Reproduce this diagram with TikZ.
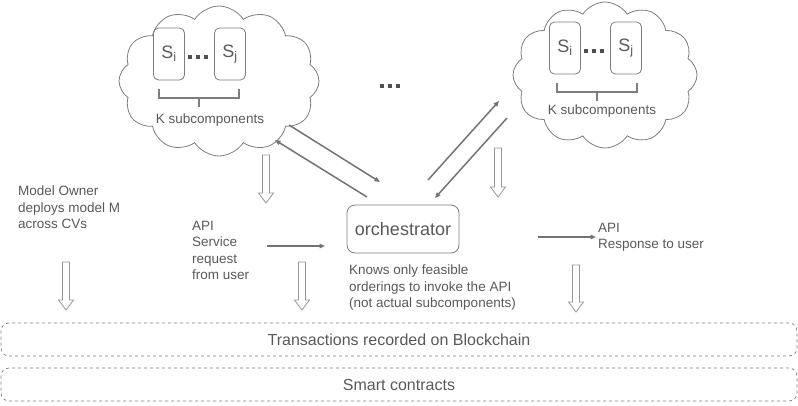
\documentclass[tikz,border=0pt]{standalone}
\usepackage{fontspec}
\setmainfont{Liberation Sans}
\usetikzlibrary{shapes.symbols,arrows.meta}
\definecolor{txt}{RGB}{89,89,89}
\definecolor{ln}{RGB}{125,125,125}
\definecolor{arr}{RGB}{115,115,115}
\definecolor{hol}{RGB}{150,150,150}
\definecolor{dotc}{RGB}{80,80,80}
\newcommand\hollowdown[3]{%
  \draw[hollow] (#1-3.5,#2) -- (#1+3.5,#2) -- (#1+3.5,#3-10) -- (#1+7.5,#3-10) -- (#1,#3) -- (#1-7.5,#3-10) -- (#1-3.5,#3-10) -- cycle;}
\newcommand\threedots[2]{%
  \fill[dotc] (#1,#2) rectangle ++(3.6,3.6);
  \fill[dotc] (#1+8,#2) rectangle ++(3.6,3.6);
  \fill[dotc] (#1+16,#2) rectangle ++(3.6,3.6);}
\begin{document}
\begin{tikzpicture}[x=1pt,y=-1pt,
  font=\fontsize{13.5}{16.5}\selectfont, text=txt,
  cloudbox/.style={cloud, cloud puffs=12, cloud puff arc=115, draw=ln, line width=0.8pt, inner sep=0pt},
  sbox/.style={draw=ln, line width=0.8pt, rounded corners=5pt, minimum width=31pt, minimum height=52pt, inner sep=0pt, font=\fontsize{18}{20}\selectfont},
  brace/.style={draw=ln, line width=1.6pt},
  orch/.style={draw=ln, line width=0.8pt, rounded corners=8pt, minimum width=112pt, minimum height=48pt, inner sep=0pt, font=\fontsize{18}{20}\selectfont},
  label/.style={align=left, anchor=north west, inner sep=0pt},
  conn/.style={draw=arr, line width=1.5pt, -{Triangle[length=5.5pt,width=4.5pt]}},
  hollow/.style={draw=hol, line width=0.8pt, fill=white},
  band/.style={draw=ln, dashed, line width=0.7pt, rounded corners=8pt, minimum width=796pt, minimum height=33pt, inner sep=0pt, font=\fontsize{16}{18}\selectfont}
]
\useasboundingbox (0,0) rectangle (798,405);

% clouds
\node[cloudbox, minimum width=200pt, minimum height=150pt] (cloudA) at (219,81) {};
\node[cloudbox, minimum width=184pt, minimum height=146pt] (cloudB) at (605,75) {};

% subcomponent boxes cloud A
\node[sbox] (siA) at (169,54) {S\textsubscript{i}};
\node[sbox] (sjA) at (230,54) {S\textsubscript{j}};
\threedots{188}{55}
\draw[brace] (159,89) -- (159,98) -- (239,98) -- (239,89);
\draw[brace] (199,98) -- (199,107);
\node (kA) at (210,120) {K subcomponents};

% subcomponent boxes cloud B
\node[sbox] (siB) at (565,48) {S\textsubscript{i}};
\node[sbox] (sjB) at (626,48) {S\textsubscript{j}};
\threedots{584}{49}
\draw[brace] (557,83) -- (557,92) -- (637,92) -- (637,83);
\draw[brace] (597,92) -- (597,101);
\node (kB) at (602,111) {K subcomponents};

% middle dots
\threedots{380}{84}

% orchestrator
\node[orch] (orc) at (403,229) {orchestrator};

% texts
\node[label] (owner) at (18,186) {Model Owner\\deploys model M\\across CVs};
\node[label] (req) at (192,221) {API\\Service\\request\\from user};
\node[label] (knows) at (349,265) {Knows only feasible\\orderings to invoke the API\\(not actual subcomponents)};
\node[label] (resp) at (598,223) {API\\Response to user};

% connectors
\coordinate (a1s) at (289,125); \coordinate (a1e) at (380,182);
\coordinate (a2s) at (367,197); \coordinate (a2e) at (275,140);
\coordinate (a3s) at (428,180); \coordinate (a3e) at (499,101);
\coordinate (a4s) at (507,118); \coordinate (a4e) at (435,198);
\coordinate (reqs) at (267,246); \coordinate (reqe) at (325,246);
\coordinate (ress) at (538,237); \coordinate (rese) at (596,237);
\draw[conn] (a1s) -- (a1e);
\draw[conn] (a2s) -- (a2e);
\draw[conn] (a3s) -- (a3e);
\draw[conn] (a4s) -- (a4e);
\draw[conn] (reqs) -- (reqe);
\draw[conn] (ress) -- (rese);

% hollow down arrows
\hollowdown{266}{155}{203}
\hollowdown{498}{148}{197}
\hollowdown{66}{262}{310}
\hollowdown{302}{262}{310}
\hollowdown{576}{265}{312}

% bottom bands
\node[band] (chain) at (399,339.5) {Transactions recorded on Blockchain};
\node[band] (smart) at (399,384.5) {Smart contracts};
\end{tikzpicture}
\end{document}
